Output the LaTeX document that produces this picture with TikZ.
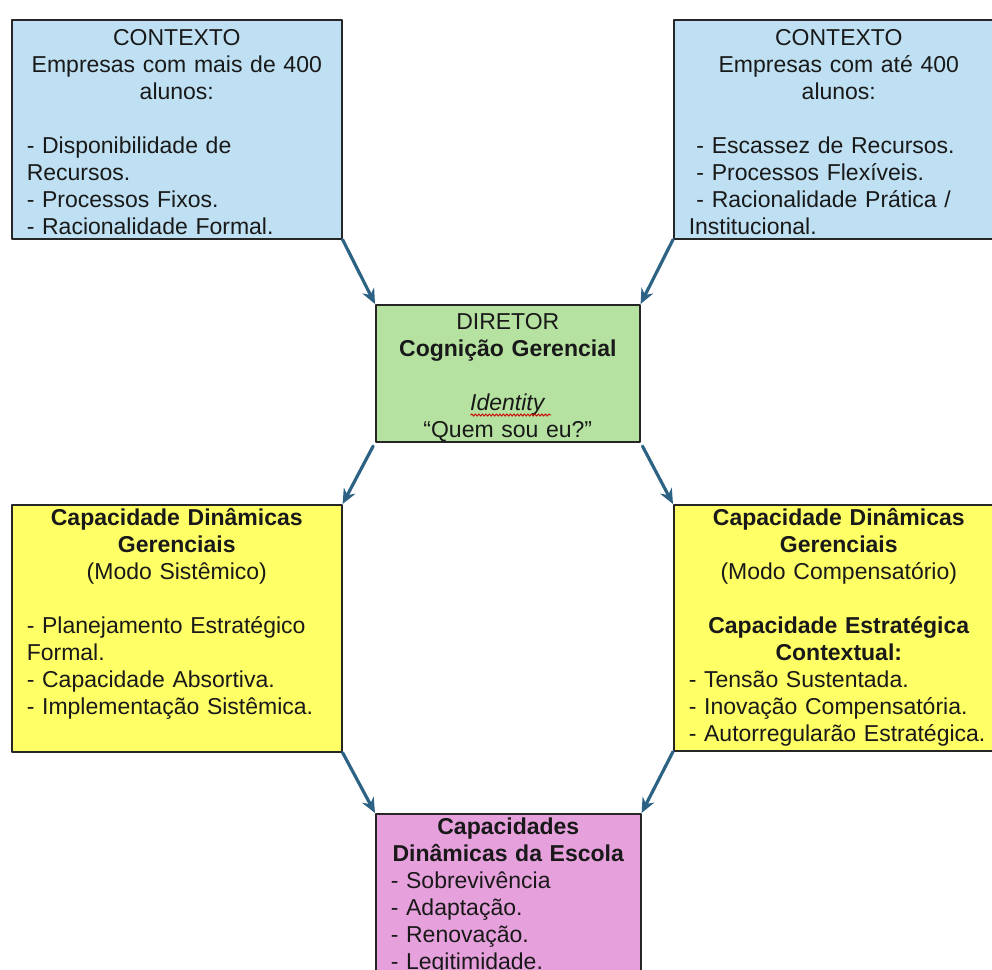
\documentclass[tikz,border=0pt]{standalone}
\usepackage{fontspec}
\setmainfont{Liberation Sans}
\usetikzlibrary{arrows.meta,positioning,calc,decorations.pathmorphing}
\definecolor{ctxblue}{HTML}{BEE0F2}
\definecolor{dirgreen}{HTML}{B6E2A1}
\definecolor{capyellow}{HTML}{FFFF66}
\definecolor{escpink}{HTML}{E6A0DC}
\definecolor{arrowblue}{HTML}{2C6385}
\definecolor{inkgray}{HTML}{262626}
\tikzset{
    panel/.style={
        draw=inkgray, line width=1.6pt, anchor=north west, inner sep=0pt
    },
    paneltext/.style={
        text width=300pt, inner sep=0pt, align=left, text=black!90,
        font=\fontsize{23}{27}\selectfont
    },
    flow/.style={
        -{Stealth[length=15pt,width=13pt]}, line width=3.2pt, color=arrowblue
    }
}

\begin{document}
\begin{tikzpicture}[x=1pt,y=-1pt, line cap=round, line join=round]

\useasboundingbox (0,0) rectangle (992,969);
\clip (0,0) rectangle (992,969);

% context boxes
\node[panel, fill=ctxblue, minimum width=330pt, minimum height=219pt] (ctxA) at (11,19) {};
\node[paneltext, below=7pt of ctxA.north] (ctxAtxt) {{\centering\strut CONTEXTO\\Empresas com mais de 400\\alunos:\par}\vskip27pt
- Disponibilidade de\\Recursos.\\- Processos Fixos.\\- Racionalidade Formal.};

\node[panel, fill=ctxblue, minimum width=330pt, minimum height=219pt] (ctxB) at (673,19) {};
\node[paneltext, below=7pt of ctxB.north] (ctxBtxt) {{\centering\strut CONTEXTO\\Empresas com até 400\\alunos:\par}\vskip27pt
\ - Escassez de Recursos.\\\ - Processos Flexíveis.\\\ - Racionalidade Prática /\\Institucional.};

% director
\node[panel, fill=dirgreen, minimum width=264pt, minimum height=137pt] (dir) at (375,304) {};
\node[paneltext, text width=234pt, below=6pt of dir.north] (dirtxt) {{\centering\strut DIRETOR\\\textbf{Cognição Gerencial}\\[27pt]\textit{Identity}\\“Quem sou eu?”\par}};
\draw[red!80!black, line width=0.9pt, decorate, decoration={snake, amplitude=1.1pt, segment length=3.5pt}]
  ($(dir.north)+(-37pt,-111pt)$) -- ++(80pt,0pt);

% managerial capabilities
\node[panel, fill=capyellow, minimum width=330pt, minimum height=247pt] (capA) at (11,504) {};
\node[paneltext, below=2pt of capA.north] (capAtxt) {{\centering\strut\textbf{Capacidade Dinâmicas}\\\textbf{Gerenciais}\\(Modo Sistêmico)\par}\vskip27pt
- Planejamento Estratégico\\Formal.\\- Capacidade Absortiva.\\- Implementação Sistêmica.};

\node[panel, fill=capyellow, minimum width=330pt, minimum height=246pt] (capB) at (673,504) {};
\node[paneltext, below=2pt of capB.north] (capBtxt) {{\centering\strut\textbf{Capacidade Dinâmicas}\\\textbf{Gerenciais}\\(Modo Compensatório)\\[27pt]\textbf{Capacidade Estratégica}\\\textbf{Contextual:}\par}
- Tensão Sustentada.\\- Inovação Compensatória.\\- Autorregularão Estratégica.};

% school
\node[panel, fill=escpink, minimum width=265pt, minimum height=220pt] (esc) at (375,813) {};
\node[paneltext, text width=235pt, below=2pt of esc.north] (esctxt) {{\centering\strut\textbf{Capacidades}\\\textbf{Dinâmicas da Escola}\par}
- Sobrevivência\\- Adaptação.\\- Renovação.\\- Legitimidade.};

\draw[flow] (ctxA.south east) -- (dir.north west);
\draw[flow] (ctxB.south west) -- (dir.north east);
\draw[flow, shorten <=4pt] (dir.south west) -- (capA.north east);
\draw[flow, shorten <=4pt] (dir.south east) -- (capB.north west);
\draw[flow] (capA.south east) -- (esc.north west);
\draw[flow] (capB.south west) -- (esc.north east);

\end{tikzpicture}
\end{document}
